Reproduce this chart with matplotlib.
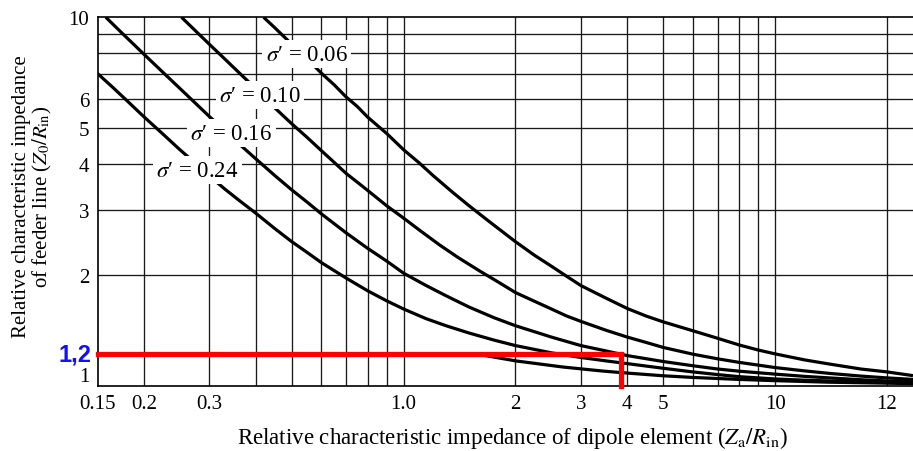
import matplotlib
matplotlib.use('Agg')
import matplotlib.pyplot as plt

plt.rcParams['font.family'] = ['Liberation Serif', 'DejaVu Serif']
plt.rcParams['mathtext.fontset'] = 'stix'

# curves: Za/Rin -> Z0/Rin, one per sigma'
sigma_labels = ["0.06", "0.10", "0.16", "0.24"]

s06_x = [0.42, 0.45, 0.5, 0.55, 0.6, 0.65, 0.7, 0.75, 0.8, 0.9, 1.0, 1.1, 1.2, 1.35, 1.5, 1.7,
         2.0, 2.25, 2.5, 2.75, 3.0, 3.5, 4.0, 4.5, 5, 6, 7, 8, 9, 10, 12, 14, 17, 20, 23.5]
s06_y = [10.0, 9.37, 8.45, 7.71, 7.06, 6.56, 6.08, 5.73, 5.36, 4.84, 4.37, 4.03, 3.72, 3.36, 3.08, 2.79,
         2.46, 2.26, 2.11, 1.98, 1.87, 1.73, 1.62, 1.545, 1.49, 1.41, 1.345, 1.29, 1.25, 1.22, 1.175, 1.145, 1.11, 1.09, 1.065]

s10_x = [0.2525, 0.275, 0.3, 0.33, 0.37, 0.4, 0.44, 0.5, 0.55, 0.6, 0.65, 0.7, 0.75, 0.8, 0.9, 1.0, 1.1, 1.25,
         1.4, 1.6, 1.8, 2.0, 2.25, 2.5, 2.75, 3.0, 3.5, 4, 4.5, 5, 6, 7, 8, 10, 12, 14, 17, 20, 23.5]
s10_y = [10.0, 9.2, 8.45, 7.71, 6.9, 6.41, 5.8, 5.14, 4.72, 4.35, 4.04, 3.77, 3.57, 3.39, 3.08, 2.85, 2.65, 2.41,
         2.23, 2.05, 1.91, 1.79, 1.695, 1.615, 1.545, 1.495, 1.415, 1.355, 1.31, 1.27, 1.218, 1.183, 1.157, 1.12, 1.097, 1.08, 1.062, 1.05, 1.04]

s16_x = [0.158, 0.175, 0.2, 0.225, 0.25, 0.275, 0.3, 0.33, 0.36, 0.4, 0.45, 0.5, 0.55, 0.6, 0.7, 0.8, 0.9,
         1.0, 1.15, 1.3, 1.5, 1.75, 2, 2.5, 3, 3.5, 4, 5, 6, 7, 8, 10, 12, 14, 17, 20, 23.5]
s16_y = [10.0, 9.04, 7.94, 7.09, 6.41, 5.85, 5.38, 4.93, 4.54, 4.13, 3.72, 3.40, 3.15, 2.93, 2.60, 2.36, 2.18,
         2.02, 1.87, 1.755, 1.635, 1.53, 1.455, 1.355, 1.285, 1.243, 1.207, 1.163, 1.133, 1.11, 1.095, 1.075, 1.06, 1.05, 1.038, 1.03, 1.025]

s24_x = [0.15, 0.165, 0.18, 0.2, 0.225, 0.25, 0.275, 0.3, 0.33, 0.36, 0.4, 0.45, 0.5, 0.55, 0.6, 0.7, 0.8, 0.9,
         1.0, 1.15, 1.3, 1.5, 1.75, 2, 2.5, 3, 3.5, 4, 5, 6, 7, 8, 10, 12, 14, 17, 20, 23.5]
s24_y = [7.04, 6.45, 5.94, 5.37, 4.82, 4.37, 4.02, 3.71, 3.42, 3.19, 2.94, 2.67, 2.46, 2.30, 2.16, 1.96, 1.81, 1.70,
         1.615, 1.52, 1.455, 1.39, 1.33, 1.285, 1.228, 1.193, 1.168, 1.148, 1.115, 1.09, 1.072, 1.058, 1.043, 1.035, 1.03, 1.024, 1.02, 1.017]

# unlabelled lowest curve, only visible right of x ~ 2
low_x = [1.55, 2.0, 2.68, 3.43, 4, 5, 6, 8, 10, 14, 20, 23.5]
low_y = [1.222, 1.168, 1.124, 1.096, 1.082, 1.064, 1.053, 1.04, 1.032, 1.022, 1.016, 1.013]

# red marker drawn over the chart
mark_y = 1.22
mark_x = 3.85

x_ticks = [0.15, 0.2, 0.3, 1.0, 2, 3, 4, 5, 10, 20]
x_ticklabels = ["0.15", "0.2", "0.3", "1.0", "2", "3", "4", "5", "10", "12"]
y_ticks = [1, 2, 3, 4, 5, 6, 10]
x_grid = [0.2, 0.3, 0.4, 0.5, 0.6, 0.7, 0.8, 0.9, 1, 2, 3, 4, 5, 6, 7, 8, 9, 10, 20]
y_grid = [2, 3, 4, 5, 6, 7, 8, 9]

fig = plt.figure(figsize=(9.13, 4.52), dpi=100)
ax = fig.add_axes([97.5 / 913, 1 - 386.7 / 452, (913 - 97.5) / 913, (386.7 - 18.3) / 452])
ax.set_xscale('log')
ax.set_yscale('log')
ax.set_xlim(0.15, 23.5)
ax.set_ylim(1, 10)

for g in x_grid:
    ax.axvline(g, color='#1a1a1a', lw=0.95, zorder=1)
for g in y_grid:
    ax.axhline(g, color='#1a1a1a', lw=0.95, zorder=1)

curves = [(s06_x, s06_y), (s10_x, s10_y), (s16_x, s16_y), (s24_x, s24_y), (low_x, low_y)]
for cx, cy in curves:
    ax.plot(cx, cy, color='black', lw=2.3, zorder=3, solid_capstyle='butt', solid_joinstyle='round')

# labels sit on white patches that break the grid and curves
label_pos = [(0.548, 7.95), (0.411, 6.15), (0.344, 4.85), (0.279, 3.85)]
for lab, (lx, ly) in zip(sigma_labels, label_pos):
    ax.text(lx, ly, r"$\sigma$" + "\u2032 = " + lab, fontsize=16.5, ha='center', va='center', zorder=5,
            bbox=dict(facecolor='white', edgecolor='none', pad=2.5))

ax.plot([0.15, mark_x, mark_x], [mark_y, mark_y, 1.0], color='#ff0000', lw=3.8,
        solid_joinstyle='miter', zorder=6, clip_on=False)

ax.set_xticks(x_ticks)
ax.set_xticklabels(x_ticklabels)
ax.set_yticks(y_ticks)
ax.set_yticklabels([str(v) for v in y_ticks])
ax.minorticks_off()
ax.tick_params(length=0, labelsize=15, pad=6)
ax.get_yticklabels()[0].set_va('bottom')

ax.spines['right'].set_visible(False)
for s in ['left', 'bottom', 'top']:
    ax.spines[s].set_linewidth(1.2)

fig.text(33 / 913, 1 - 197 / 452,
         "Relative characteristic impedance\n" + r"of feeder line ($Z_0/R_{\rm in}$)",
         rotation=90, ha='center', va='center', multialignment='center', fontsize=15,
         linespacing=1.0)
fig.text(513 / 913, 1 - 438 / 452,
         r"Relative characteristic impedance of dipole element ($Z_{\rm a}/R_{\rm in}$)",
         ha='center', va='center', fontsize=16.5)

fig.text(91 / 913, 1 - 361.7 / 452, "1,2", color='#1010ff', fontsize=17, fontweight='bold',
         family='Liberation Sans', ha='right', va='baseline')

fig.savefig('out.png', dpi=100)
